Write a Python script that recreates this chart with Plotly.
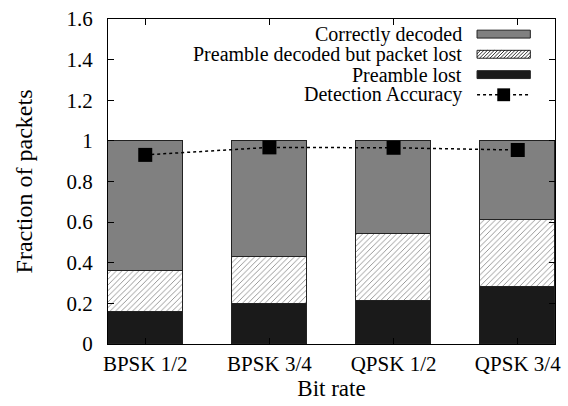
import plotly.graph_objects as go

categories = ["BPSK 1/2", "BPSK 3/4", "QPSK 1/2", "QPSK 3/4"]
preamble_lost = [0.157, 0.199, 0.214, 0.282]
decoded_but_lost = [0.200, 0.227, 0.329, 0.328]
correctly_decoded = [0.643, 0.574, 0.457, 0.390]
detection_accuracy = [0.931, 0.968, 0.966, 0.955]
y_ticks = [0, 0.2, 0.4, 0.6, 0.8, 1, 1.2, 1.4, 1.6]

FONT = "Liberation Serif"
W, H = 568, 406
# plot area in pixels
L, R, T, B = 108, 561, 15, 344

def px(x):
    return (x - L) / (R - L)

def py(y):
    return (B - y) / (B - T)

xs = list(range(len(categories)))
bw = 0.605
outline = dict(color="#222222", width=1)

fig = go.Figure()
fig.add_trace(go.Bar(x=xs, y=preamble_lost, width=bw, marker=dict(color="#1a1a1a", line=outline),
                     name="Preamble lost", showlegend=False))
fig.add_trace(go.Bar(x=xs, y=decoded_but_lost, width=bw,
                     marker=dict(color="white", line=outline,
                                 pattern=dict(shape="/", fgcolor="black", bgcolor="white", size=4, solidity=0.2)),
                     name="Preamble decoded but packet lost", showlegend=False))
fig.add_trace(go.Bar(x=xs, y=correctly_decoded, width=bw, marker=dict(color="#808080", line=outline),
                     name="Correctly decoded", showlegend=False))
fig.add_trace(go.Scatter(x=xs, y=detection_accuracy, mode="lines+markers",
                         line=dict(color="black", width=1.5, dash="dot"),
                         marker=dict(symbol="square", size=14, color="black"),
                         name="Detection Accuracy", showlegend=False))

# Manual gnuplot-style legend (text right, swatch to the right)
legend_rows = [("Correctly decoded", 30.3), ("Preamble decoded but packet lost", 50.7),
               ("Preamble lost", 71.3), ("Detection Accuracy", 91.7)]
annotations = []
for text, yy in legend_rows:
    annotations.append(dict(x=px(469), y=py(yy), xref="paper", yref="paper", text=text,
                            showarrow=False, xanchor="right", yanchor="middle",
                            font=dict(family=FONT, size=20, color="black")))

shapes = []
sx0, sx1 = 482, 536
shapes.append(dict(type="rect", xref="paper", yref="paper", x0=px(sx0), x1=px(sx1),
                   y0=py(30.3 + 4), y1=py(30.3 - 4), fillcolor="#808080", line=dict(color="#222", width=1)))
yc = 50.7
y_top, y_bot = yc - 4, yc + 4
shapes.append(dict(type="rect", xref="paper", yref="paper", x0=px(sx0), x1=px(sx1),
                   y0=py(y_bot), y1=py(y_top), fillcolor="white", line=dict(color="#222", width=1)))
path = ""
h = y_bot - y_top
xx = sx0 - h
while xx < sx1:
    a_x, a_y = xx, y_bot
    b_x, b_y = xx + h, y_top
    if a_x < sx0:
        a_y = y_bot - (sx0 - a_x)
        a_x = sx0
    if b_x > sx1:
        b_y = y_top + (b_x - sx1)
        b_x = sx1
    path += f"M{px(a_x)},{py(a_y)} L{px(b_x)},{py(b_y)} "
    xx += 3.5
shapes.append(dict(type="path", xref="paper", yref="paper", path=path, line=dict(color="black", width=0.8)))
shapes.append(dict(type="rect", xref="paper", yref="paper", x0=px(sx0), x1=px(sx1),
                   y0=py(71.3 + 4), y1=py(71.3 - 4), fillcolor="#1a1a1a", line=dict(color="#222", width=1)))
shapes.append(dict(type="line", xref="paper", yref="paper", x0=px(sx0), x1=px(sx1),
                   y0=py(91.7), y1=py(91.7), line=dict(color="black", width=1.5, dash="dot")))
shapes.append(dict(type="rect", xref="paper", yref="paper", x0=px(502.5), x1=px(515.5),
                   y0=py(98.2), y1=py(85.2), fillcolor="black", line=dict(color="black", width=0)))

fig.update_layout(
    width=W, height=H,
    margin=dict(l=L, r=W - R, t=T, b=H - B, pad=0),
    paper_bgcolor="white", plot_bgcolor="white",
    barmode="stack", bargap=0,
    font=dict(family=FONT, size=21, color="black"),
    annotations=annotations, shapes=shapes,
    showlegend=False,
)
fig.update_xaxes(range=[-0.3, 3.3], tickvals=xs, ticktext=categories,
                 showline=True, linecolor="black", linewidth=1, mirror="ticks",
                 ticks="inside", ticklen=6, tickcolor="black", showgrid=False, zeroline=False,
                 tickfont=dict(family=FONT, size=21), ticklabelstandoff=1,
                 title=dict(text="Bit rate", font=dict(family=FONT, size=23), standoff=0))
fig.update_yaxes(range=[0, 1.6], tickvals=y_ticks,
                 showline=True, linecolor="black", linewidth=1, mirror="ticks",
                 ticks="inside", ticklen=6, tickcolor="black", showgrid=False, zeroline=False,
                 tickfont=dict(family=FONT, size=21), ticklabelstandoff=10,
                 title=dict(text="Fraction of packets", font=dict(family=FONT, size=24), standoff=27))

fig.write_html("out.html", config={"displayModeBar": False},
               post_script="document.body.style.margin='0';")
